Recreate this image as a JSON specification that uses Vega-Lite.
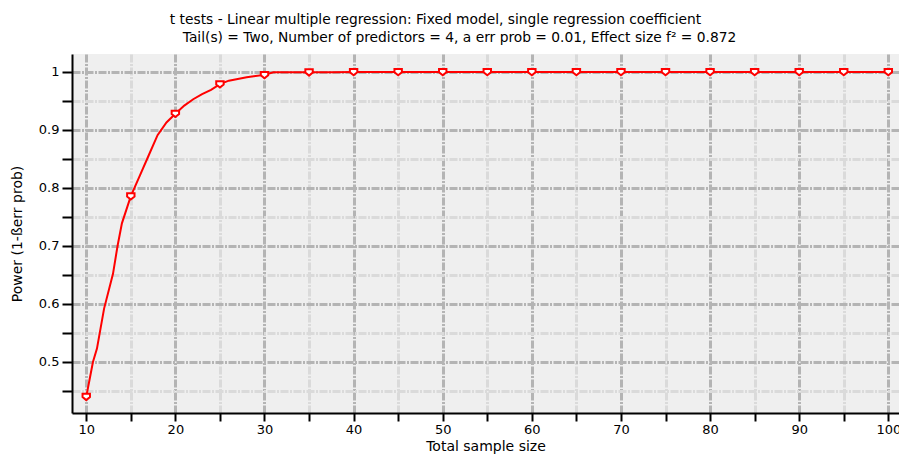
{
  "$schema": "https://vega.github.io/schema/vega-lite/v6.json",
  "width": 827,
  "height": 359,
  "autosize": {"type": "none"},
  "padding": {"left": 72, "top": 54, "right": 0, "bottom": 49},
  "background": "white",
  "config": {
    "view": {"fill": "#efefef", "stroke": null},
    "font": "DejaVu Sans"
  },
  "title": {
    "text": "t tests - Linear multiple regression: Fixed model, single regression coefficient",
    "fontSize": 13.8,
    "fontWeight": "normal",
    "color": "black",
    "offset": 3,
    "dx": -50
  },
  "datasets": {
    "curve": [
      {"n": 10, "power": 0.44},
      {"n": 10.75, "power": 0.5},
      {"n": 11.2, "power": 0.523},
      {"n": 12, "power": 0.592},
      {"n": 13, "power": 0.652},
      {"n": 13.5, "power": 0.699},
      {"n": 14, "power": 0.739},
      {"n": 15, "power": 0.786},
      {"n": 16, "power": 0.821},
      {"n": 17, "power": 0.856},
      {"n": 18, "power": 0.891},
      {"n": 19, "power": 0.913},
      {"n": 20, "power": 0.928},
      {"n": 21, "power": 0.942},
      {"n": 22, "power": 0.953},
      {"n": 23, "power": 0.962},
      {"n": 24, "power": 0.969},
      {"n": 25, "power": 0.979},
      {"n": 26, "power": 0.985},
      {"n": 27, "power": 0.988},
      {"n": 28, "power": 0.991},
      {"n": 29, "power": 0.993},
      {"n": 30, "power": 0.995},
      {"n": 31, "power": 0.9995},
      {"n": 35, "power": 0.9995},
      {"n": 37.6, "power": 0.9995},
      {"n": 40, "power": 1},
      {"n": 45, "power": 1},
      {"n": 50, "power": 1},
      {"n": 55, "power": 1},
      {"n": 60, "power": 1},
      {"n": 65, "power": 1},
      {"n": 70, "power": 1},
      {"n": 75, "power": 1},
      {"n": 80, "power": 1},
      {"n": 85, "power": 1},
      {"n": 90, "power": 1},
      {"n": 95, "power": 1},
      {"n": 100, "power": 1}
    ],
    "points": [
      {"n": 10, "power": 0.44},
      {"n": 15, "power": 0.786},
      {"n": 20, "power": 0.928},
      {"n": 25, "power": 0.979},
      {"n": 30, "power": 0.995},
      {"n": 35, "power": 0.9995},
      {"n": 40, "power": 1},
      {"n": 45, "power": 1},
      {"n": 50, "power": 1},
      {"n": 55, "power": 1},
      {"n": 60, "power": 1},
      {"n": 65, "power": 1},
      {"n": 70, "power": 1},
      {"n": 75, "power": 1},
      {"n": 80, "power": 1},
      {"n": 85, "power": 1},
      {"n": 90, "power": 1},
      {"n": 95, "power": 1},
      {"n": 100, "power": 1}
    ]
  },
  "encoding": {
    "y": {
      "field": "power",
      "type": "quantitative",
      "title": "Power (1-ßerr prob)",
      "scale": {"domain": [0.412, 1.031], "nice": false, "zero": false},
      "axis": {
        "values": [0.45, 0.5, 0.55, 0.6, 0.65, 0.7, 0.75, 0.8, 0.85, 0.9, 0.95, 1],
        "format": "~g",
        "labelExpr": "abs(datum.value * 10 - round(datum.value * 10)) < 0.001 ? datum.label : ''",
        "grid": true,
        "gridWidth": 3,
        "gridColor": {"condition": {"test": "abs(datum.value * 10 - round(datum.value * 10)) < 0.001", "value": "#b4b4b4"}, "value": "#dadada"},
        "gridDash": [8, 1.5, 2, 1.5],
        "domainColor": "black",
        "domainWidth": 2,
        "tickColor": "black",
        "tickWidth": 2,
        "tickSize": 10,
        "labelFontSize": 13,
        "labelColor": "black",
        "labelPadding": 3,
        "titleFontSize": 14,
        "titleFontWeight": "normal",
        "titleColor": "black",
        "titlePadding": 14
      }
    }
  },
  "layer": [
    {
      "data": {"name": "curve"},
      "mark": {"type": "line", "color": "#ff0000", "strokeWidth": 2},
      "encoding": {
        "x": {
          "field": "n",
          "type": "quantitative",
          "title": "Total sample size",
          "scale": {"domain": [8.4, 101.2], "nice": false, "zero": false},
          "axis": {
            "values": [10, 15, 20, 25, 30, 35, 40, 45, 50, 55, 60, 65, 70, 75, 80, 85, 90, 95, 100],
            "labelExpr": "datum.value % 10 === 0 ? datum.label : ''",
            "grid": true,
            "gridWidth": 3,
            "gridColor": {"condition": {"test": "datum.value % 10 === 0", "value": "#b4b4b4"}, "value": "#dadada"},
            "gridDash": [8, 1.5, 2, 1.5],
            "domainColor": "black",
            "domainWidth": 2,
            "tickColor": "black",
            "tickWidth": 2,
            "tickSize": 8,
            "labelFontSize": 13,
            "labelColor": "black",
            "labelPadding": 2,
            "labelFlush": false,
            "titleFontSize": 14,
            "titleFontWeight": "normal",
            "titleColor": "black",
            "titlePadding": 3
          }
        }
      }
    },
    {
      "data": {"name": "points"},
      "mark": {
        "type": "point",
        "shape": "M -1 -0.8 L 1 -0.8 L 1 0.1 L 0 0.9 L -1 0.1 Z",
        "filled": true,
        "fill": "white",
        "stroke": "#ff0000",
        "strokeWidth": 2,
        "size": 55,
        "opacity": 1
      },
      "encoding": {
        "x": {
          "field": "n",
          "type": "quantitative",
          "title": "Tail(s) = Two, Number of predictors = 4, a err prob = 0.01, Effect size f² = 0.872",
          "scale": {"domain": [8.4, 101.2], "nice": false, "zero": false},
          "axis": {
            "orient": "top",
            "domain": false,
            "ticks": false,
            "labels": false,
            "grid": false,
            "titleFontSize": 13.8,
            "titleFontWeight": "normal",
            "titleColor": "black",
            "titleX": 387,
            "titleY": -17,
            "titleAlign": "center",
            "titleBaseline": "middle",
            "titleAngle": 0
          }
        }
      }
    }
  ],
  "resolve": {"axis": {"x": "independent"}}
}
